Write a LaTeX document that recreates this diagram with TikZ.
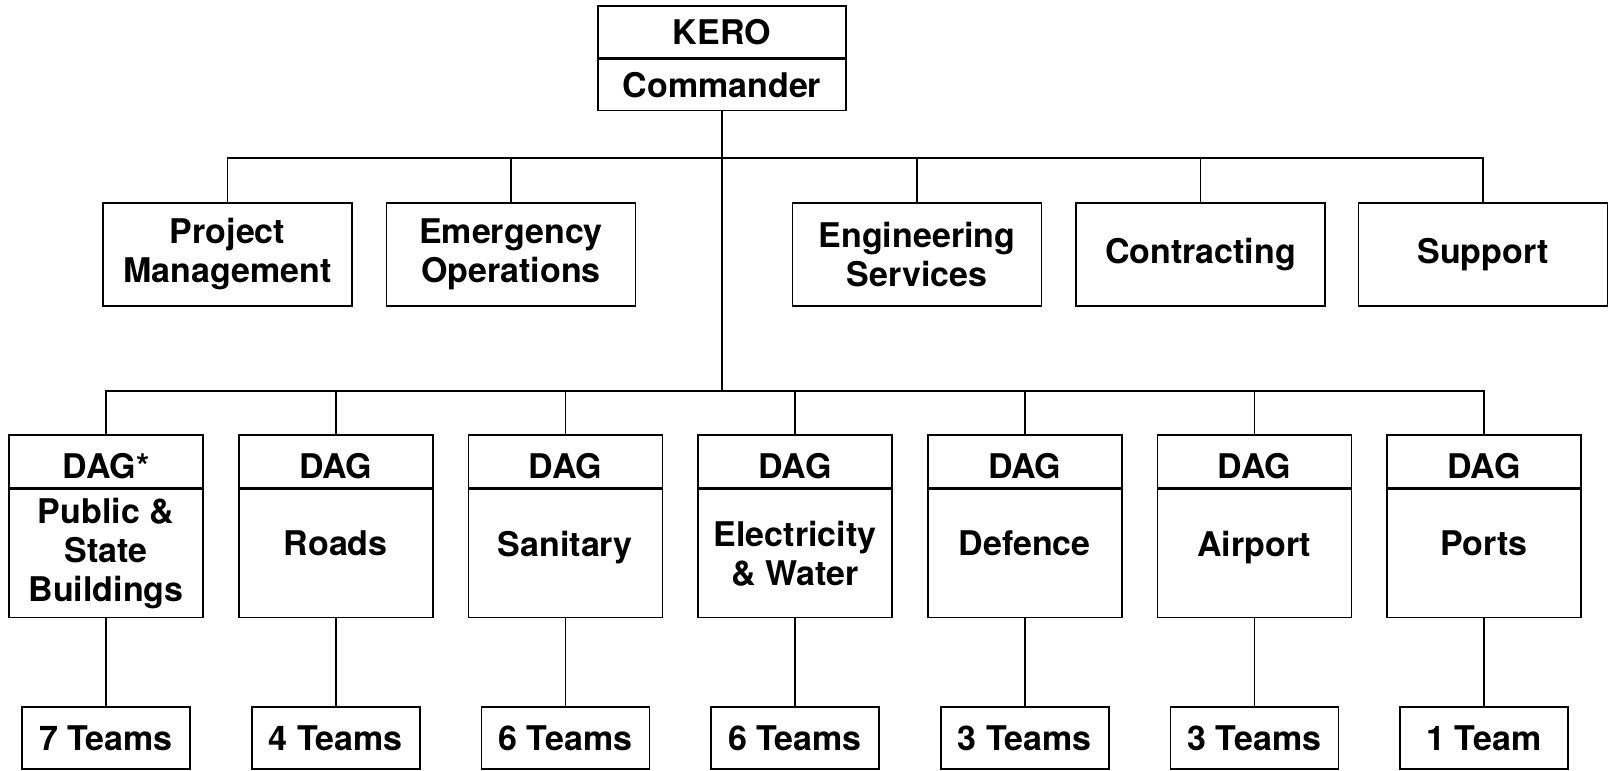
\documentclass[tikz,border=0pt]{standalone}
\usepackage{fontspec}
\setmainfont{TeX Gyre Heros}
\begin{document}
\begin{tikzpicture}[x=1pt,y=-1pt,
  font=\bfseries\fontsize{34}{39}\selectfont,
  line width=1.6pt,
  box/.style={draw, line width=1.6pt, inner sep=0pt, align=center},
  unit/.style={box, minimum width=249pt, minimum height=103pt},
  dagtop/.style={box, minimum width=194pt, minimum height=53pt, text height=34pt, text depth=0pt},
  dagbody/.style={box, minimum width=194pt, minimum height=128pt, anchor=north},
  single/.style={text depth=20pt},
  multi/.style={},
  team/.style={box, minimum width=168pt, minimum height=62pt}]
\useasboundingbox (0,0) rectangle (1615,771);

% top
\node[box, minimum width=248pt, minimum height=52pt] (kero) at (722,32) {KERO};
\node[box, minimum width=248pt, minimum height=51pt, anchor=north] (cmd) at (kero.south) {Commander};

% second row
\node[unit] (pm)  at (227.5,254.5) {Project\\Management};
\node[unit] (eo)  at (511,254.5) {Emergency\\Operations};
\node[unit] (es)  at (917,254.5) {Engineering\\Services};
\node[unit] (con) at (1200.5,254.5) {Contracting};
\node[unit] (sup) at (1483,254.5) {Support};

% DAG row
\foreach \i/\x/\lbl/\st/\body/\tm in {
  1/106/DAG*/multi/{Public \&\\State\\Buildings}/7 Teams,
  2/335.7/DAG/single/{Roads}/4 Teams,
  3/565.3/DAG/single/{Sanitary}/6 Teams,
  4/795/DAG/multi/{Electricity\\\& Water}/6 Teams,
  5/1024.7/DAG/single/{Defence}/3 Teams,
  6/1254.3/DAG/single/{Airport}/3 Teams,
  7/1484/DAG/single/{Ports}/1 Team}{
  \node[dagtop] (d\i) at (\x,461.5) {\lbl};
  \node[dagbody,\st] (b\i) at (d\i.south) {\body};
  \node[team] (t\i) at (\x,738) {\tm};
  \draw (b\i.south) -- (t\i.north);
}

% connectors
\coordinate (tb) at (722,158);
\coordinate (bb) at (722,391);
\draw (cmd.south) -- (bb);
\draw (pm.north) |- (tb) -| (sup.north);
\foreach \n in {eo,es,con} \draw (\n.north) -- (\n.north |- tb);
\draw (d1.north) |- (bb) -| (d7.north);
\foreach \i in {2,...,6} \draw (d\i.north) -- (d\i.north |- bb);
\end{tikzpicture}
\end{document}
